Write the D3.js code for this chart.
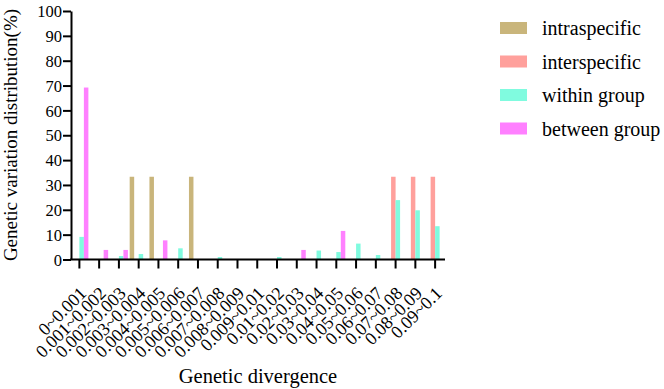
<!DOCTYPE html>
<html>
<head>
<meta charset="utf-8">
<script src="https://cdn.jsdelivr.net/npm/d3@7"></script>
<style>
  body { margin: 0; background: #fff; }
  text { font-family: "Liberation Serif", "Times New Roman", "DejaVu Serif", serif; fill: #000; }
</style>
</head>
<body>
<svg id="chart" width="664" height="389"></svg>
<script>
// categories on the x axis
var categories = ['0~0.001', '0.001~0.002', '0.002~0.003', '0.003~0.004', '0.004~0.005',
    '0.005~0.006', '0.006~0.007', '0.007~0.008', '0.008~0.009', '0.009~0.01', '0.01~0.02',
    '0.02~0.03', '0.03~0.04', '0.04~0.05', '0.05~0.06', '0.06~0.07', '0.07~0.08',
    '0.08~0.09', '0.09~0.1'];
var series = ['intraspecific', 'interspecific', 'within group', 'between group'];

// values in percent, one per category
var intraspecific = [0, 0, 0, 33.3, 33.3, 0, 33.3, 0, 0, 0, 0, 0, 0, 0, 0, 0, 0, 0, 0];
var interspecific = [0, 0, 0, 0, 0, 0, 0, 0, 0, 0, 0, 0, 0, 0, 0, 0, 33.3, 33.3, 33.3];
var withinGroup = [9.1, 0, 1.4, 2.2, 0, 4.5, 0, 1.0, 0, 0, 1.0, 0, 3.6, 3.0, 6.4, 1.8, 23.9, 19.8, 13.4];
var betweenGroup = [69.2, 3.85, 3.85, 0, 7.7, 0, 0, 0, 0, 0, 0, 3.85, 0, 11.5, 0, 0, 0, 0, 0];
var yTicks = [0, 10, 20, 30, 40, 50, 60, 70, 80, 90, 100];

var colors = ['#c9b57b', '#ffa09c', '#80fbdf', '#ff80ff'];
var values = [intraspecific, interspecific, withinGroup, betweenGroup];

var svg = d3.select('#chart');

var x = d3.scaleBand().domain(categories).range([69.5, 445]);
var xInner = d3.scaleBand().domain(series).range([-9, 9]);
var y = d3.scaleLinear().domain([0, 100]).range([259.5, 11]);
var color = d3.scaleOrdinal(series, colors);

// bars
var rows = [];
categories.forEach(function (c, i) {
    series.forEach(function (s, j) {
        rows.push({ cat: c, series: s, value: values[j][i] });
    });
});

svg.append('g').selectAll('rect').data(rows.filter(function (d) { return d.value > 0; })).join('rect')
    .attr('x', function (d) { return x(d.cat) + x.bandwidth() / 2 + xInner(d.series); })
    .attr('width', xInner.bandwidth())
    .attr('y', function (d) { return y(d.value); })
    .attr('height', function (d) { return y(0) - y(d.value); })
    .attr('fill', function (d) { return color(d.series); });

// y axis
var yAxis = svg.append('g').attr('transform', 'translate(71,0)')
    .call(d3.axisLeft(y).tickValues(yTicks).tickSize(8).tickSizeOuter(0).tickPadding(1));
yAxis.selectAll('path, line').attr('stroke', '#000').attr('stroke-width', 2);
yAxis.selectAll('text').style('font-size', '16.5px').attr('dy', '0.34em');

// x axis
var xAxis = svg.append('g').attr('transform', 'translate(0,' + y(0) + ')')
    .call(d3.axisBottom(x).tickSize(9).tickSizeOuter(0));
xAxis.select('.domain').attr('d', 'M70,0H445');
xAxis.selectAll('path, line').attr('stroke', '#000').attr('stroke-width', 2);
xAxis.selectAll('text')
    .style('font-size', '18px')
    .attr('text-anchor', 'end')
    .attr('dy', null).attr('y', 0)
    .attr('transform', 'translate(8,35) rotate(-45)');

// axis titles
svg.append('text').attr('transform', 'translate(17,135) rotate(-90)')
    .attr('text-anchor', 'middle').style('font-size', '19px').text('Genetic variation distribution(%)');
svg.append('text').attr('x', 258).attr('y', 383)
    .attr('text-anchor', 'middle').style('font-size', '20.5px').text('Genetic divergence');

// legend
var legend = svg.append('g').selectAll('g').data(series).join('g')
    .attr('transform', function (d, i) { return 'translate(500,' + (22 + i * 33.5) + ')'; });
legend.append('rect').attr('width', 27).attr('height', 12)
    .attr('fill', function (d) { return color(d); });
legend.append('text').attr('x', 42).attr('y', 13).style('font-size', '20px').text(function (d) { return d; });
</script>
</body>
</html>
